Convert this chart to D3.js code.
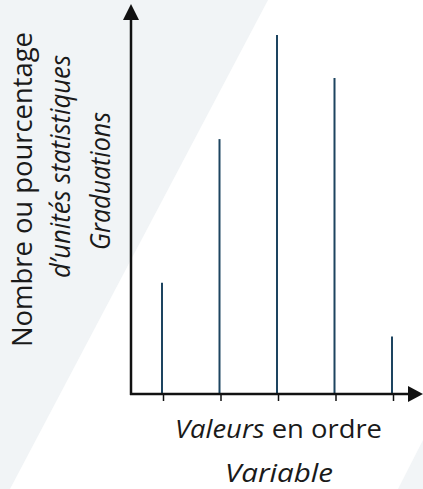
<!DOCTYPE html>
<html lang="fr">
<head>
    <meta charset="UTF-8">
    <title>Diagramme en bâtons</title>
    <script src="https://cdnjs.cloudflare.com/ajax/libs/d3/7.8.5/d3.min.js"></script>
    <style>
        html, body {
            margin: 0;
            padding: 0;
            background: #ffffff;
        }

        svg {
            display: block;
            font-family: "Open Sans", sans-serif;
        }

        .stick {
            stroke: #1d4460;
            stroke-width: 2;
        }

        .axis-line {
            stroke: #111;
            stroke-width: 2.5;
        }

        .label {
            fill: #1a1a1a;
        }
    </style>
</head>
<body>
<div id="chart"></div>
<script>
    // données (hauteurs relatives, 100 = bâton le plus haut)
    const categories = ['x1', 'x2', 'x3', 'x4', 'x5'];
    const counts = [31, 71, 100, 88, 16];

    const width = 423;
    const height = 489;

    const origin = {x: 131, y: 394};

    const svg = d3.select('#chart')
        .append('svg')
        .attr('width', width)
        .attr('height', height);

    // fond : bande diagonale gris très clair
    svg.append('polygon')
        .attr('points', '0,0 268,0 10,489 0,489')
        .attr('fill', '#f1f4f6');
    svg.append('polygon')
        .attr('points', '423,440 423,489 398,489')
        .attr('fill', '#f2f5f7');

    const x = d3.scalePoint()
        .domain(categories)
        .range([162, 392]);

    const y = d3.scaleLinear()
        .domain([0, 100])
        .range([origin.y, 35]);

    // bâtons
    svg.selectAll('.stick')
        .data(categories)
        .enter()
        .append('line')
        .attr('class', 'stick')
        .attr('x1', d => x(d))
        .attr('x2', d => x(d))
        .attr('y1', y(0))
        .attr('y2', (d, i) => y(counts[i]));

    // axe des abscisses avec petites graduations
    const xAxis = d3.axisBottom(x).tickSize(7).tickFormat('');
    const gx = svg.append('g')
        .attr('transform', `translate(1, ${origin.y})`)
        .call(xAxis);
    gx.select('.domain').remove();
    gx.selectAll('.tick line').attr('stroke', '#111').attr('stroke-width', 1.5);

    svg.append('line')
        .attr('class', 'axis-line')
        .attr('x1', origin.x - 1)
        .attr('x2', 409)
        .attr('y1', origin.y)
        .attr('y2', origin.y);
    svg.append('path')
        .attr('d', `M408,${origin.y - 8}L423,${origin.y}L408,${origin.y + 8}Z`)
        .attr('fill', '#111');

    // axe des ordonnées
    svg.append('line')
        .attr('class', 'axis-line')
        .attr('x1', origin.x)
        .attr('x2', origin.x)
        .attr('y1', origin.y + 1)
        .attr('y2', 18);
    svg.append('path')
        .attr('d', `M${origin.x - 8},20L${origin.x},4L${origin.x + 8},20Z`)
        .attr('fill', '#111');

    // titres verticaux
    const vLabels = [
        {text: 'Nombre ou pourcentage', x: 32, y: 189.5, len: 315, italic: false},
        {text: 'd\u2019unités statistiques', x: 70, y: 166.5, len: 223, italic: true},
        {text: 'Graduations', x: 110, y: 181, len: 138, italic: true}
    ];
    vLabels.forEach(l => {
        svg.append('text')
            .attr('class', 'label')
            .attr('transform', `translate(${l.x}, ${l.y}) rotate(-90)`)
            .attr('text-anchor', 'middle')
            .attr('textLength', l.len)
            .attr('lengthAdjust', 'spacingAndGlyphs')
            .style('font-size', '27px')
            .style('font-style', l.italic ? 'italic' : 'normal')
            .text(l.text);
    });

    // titres horizontaux
    const t1 = svg.append('text')
        .attr('class', 'label')
        .attr('x', 278.5)
        .attr('y', 438)
        .attr('text-anchor', 'middle')
        .attr('textLength', 207)
        .attr('lengthAdjust', 'spacingAndGlyphs')
        .style('font-size', '26px');
    t1.append('tspan').style('font-style', 'italic').text('Valeurs');
    t1.append('tspan').text(' en ordre');

    svg.append('text')
        .attr('class', 'label')
        .attr('x', 279)
        .attr('y', 482)
        .attr('text-anchor', 'middle')
        .attr('textLength', 108)
        .attr('lengthAdjust', 'spacingAndGlyphs')
        .style('font-size', '25px')
        .style('font-style', 'italic')
        .text('Variable');
</script>
</body>
</html>
